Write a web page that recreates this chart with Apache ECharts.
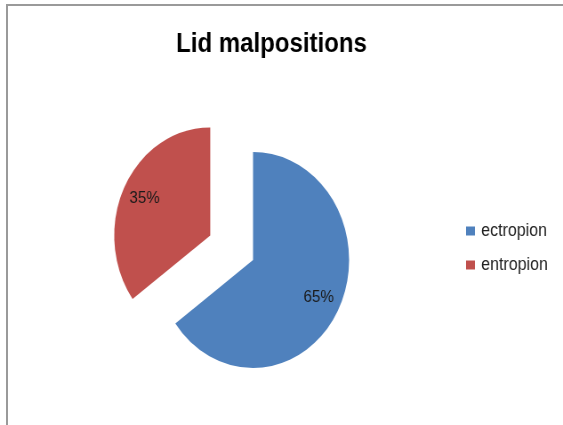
<!DOCTYPE html>
<html>
<head>
<meta charset="utf-8">
<script src="https://cdn.jsdelivr.net/npm/echarts@6/dist/echarts.min.js"></script>
<style>
html,body{margin:0;padding:0;background:#fff;overflow:hidden;}
#wrap{position:absolute;left:0;top:0;width:563px;height:425px;overflow:hidden;}
#chart{position:absolute;left:0;top:0;width:633px;height:425px;transform:scaleX(0.8894);transform-origin:0 0;}
#frame{position:absolute;left:6px;top:4px;width:557px;height:421px;border-left:2px solid #9a9a9a;border-top:2px solid #9a9a9a;box-sizing:border-box;pointer-events:none;}
</style>
</head>
<body>
<div id="wrap"><div id="chart"></div></div>
<div id="frame"></div>
<script>
const titleText = 'Lid malpositions';
const categories = ['ectropion', 'entropion'];
const values = [65, 35];
const colors = ['#4F81BD', '#C0504D'];

const chart = echarts.init(document.getElementById('chart'), null, {renderer: 'canvas'});
const font = "'Liberation Sans', Arial, sans-serif";
const pieData = categories.map((c, i) => ({
  name: c,
  value: values[i],
  selected: i === 1,
  itemStyle: {color: colors[i]}
}));
const labelData = categories.map((c, i) => ({
  name: c,
  value: values[i],
  selected: i === 1
}));
const center = [284.5, 260];
const R = 108;
const offset = 54;
chart.setOption({
  animation: false,
  backgroundColor: '#fff',
  title: {
    text: titleText,
    left: 193,
    top: 26,
    textStyle: {fontFamily: font, fontWeight: 'bold', fontSize: 27, color: '#000'}
  },
  legend: {
    orient: 'vertical',
    left: 519,
    top: 217,
    icon: 'rect',
    itemWidth: 10,
    itemHeight: 9,
    itemGap: 16,
    data: categories,
    textStyle: {fontFamily: font, fontSize: 18, color: '#222', padding: [0, 0, 0, 2]}
  },
  series: [
    {
      type: 'pie',
      center: center,
      radius: [0, R],
      startAngle: 90,
      clockwise: true,
      selectedMode: 'single',
      selectedOffset: offset,
      avoidLabelOverlap: false,
      label: {show: false},
      labelLine: {show: false},
      emphasis: {disabled: true},
      data: pieData
    },
    {
      type: 'pie',
      center: center,
      radius: [R * 0.48, R],
      startAngle: 90,
      clockwise: true,
      selectedMode: 'single',
      selectedOffset: offset,
      silent: true,
      legendHoverLink: false,
      avoidLabelOverlap: false,
      itemStyle: {color: 'rgba(0,0,0,0)'},
      label: {
        show: true,
        position: 'inside',
        formatter: p => p.value + '%',
        fontFamily: font,
        fontSize: 17,
        color: '#1a1a1a'
      },
      labelLine: {show: false},
      emphasis: {disabled: true},
      data: labelData
    }
  ]
});
</script>
</body>
</html>
